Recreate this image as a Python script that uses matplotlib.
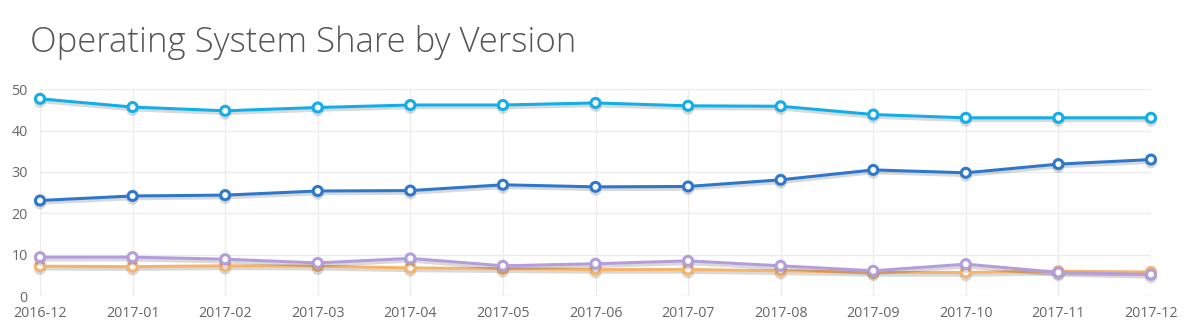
import matplotlib
matplotlib.use("Agg")
import matplotlib.pyplot as plt
import matplotlib.patheffects as pe

months = ["2016-12", "2017-01", "2017-02", "2017-03", "2017-04", "2017-05", "2017-06",
          "2017-07", "2017-08", "2017-09", "2017-10", "2017-11", "2017-12"]

# monthly share per version (%)
series_a = [47.7, 45.7, 44.8, 45.6, 46.2, 46.2, 46.7, 46.0, 45.9, 43.9, 43.1, 43.1, 43.1]
series_b = [23.1, 24.2, 24.4, 25.4, 25.5, 26.9, 26.4, 26.5, 28.1, 30.5, 29.8, 31.9, 33.0]
series_c = [9.4, 9.4, 8.9, 8.0, 9.1, 7.3, 7.8, 8.5, 7.3, 6.1, 7.7, 5.7, 5.2]
series_d = [7.2, 7.1, 7.3, 7.2, 6.8, 6.6, 6.4, 6.4, 6.1, 5.7, 5.7, 6.0, 5.8]

colors = ["#12aee9", "#2d78cc", "#b39ddb", "#f7b36a"]

plt.rcParams['font.family'] = ['Open Sans', 'DejaVu Sans']

fig = plt.figure(figsize=(12, 3.28), dpi=100)
ax = fig.add_axes([40 / 1200, 1 - 296 / 328, 1111 / 1200, (296 - 89.3) / 328])

x = list(range(len(months)))
shadow = [pe.SimpleLineShadow(offset=(0, -2), shadow_color="#000000", alpha=0.15),
          pe.Normal()]
for ys, c in zip([series_d, series_c, series_b, series_a], colors[::-1]):
    ax.plot(x, ys, color=c, lw=2.2, marker="o", markersize=6.5,
            markerfacecolor="white", markeredgecolor=c, markeredgewidth=2.2,
            path_effects=shadow, zorder=3, clip_on=False)

ax.set_xlim(0, len(months) - 1)
ax.set_ylim(0, 50)
ax.set_yticks([0, 10, 20, 30, 40, 50])
ax.set_xticks(x)
ax.set_xticklabels(months)
ax.grid(True, color="#ececec", lw=1)
ax.set_axisbelow(True)
for s in ax.spines.values():
    s.set_visible(False)
ax.tick_params(length=0, labelsize=10.3, labelcolor="#666666")
ax.tick_params(axis="y", pad=9)
ax.tick_params(axis="x", pad=7)

fig.text(30 / 1200, 1 - 52 / 328, "Operating System Share by Version",
         fontsize=25, color="#555555", fontweight="light")

fig.savefig("out.png", dpi=100, facecolor="white")
